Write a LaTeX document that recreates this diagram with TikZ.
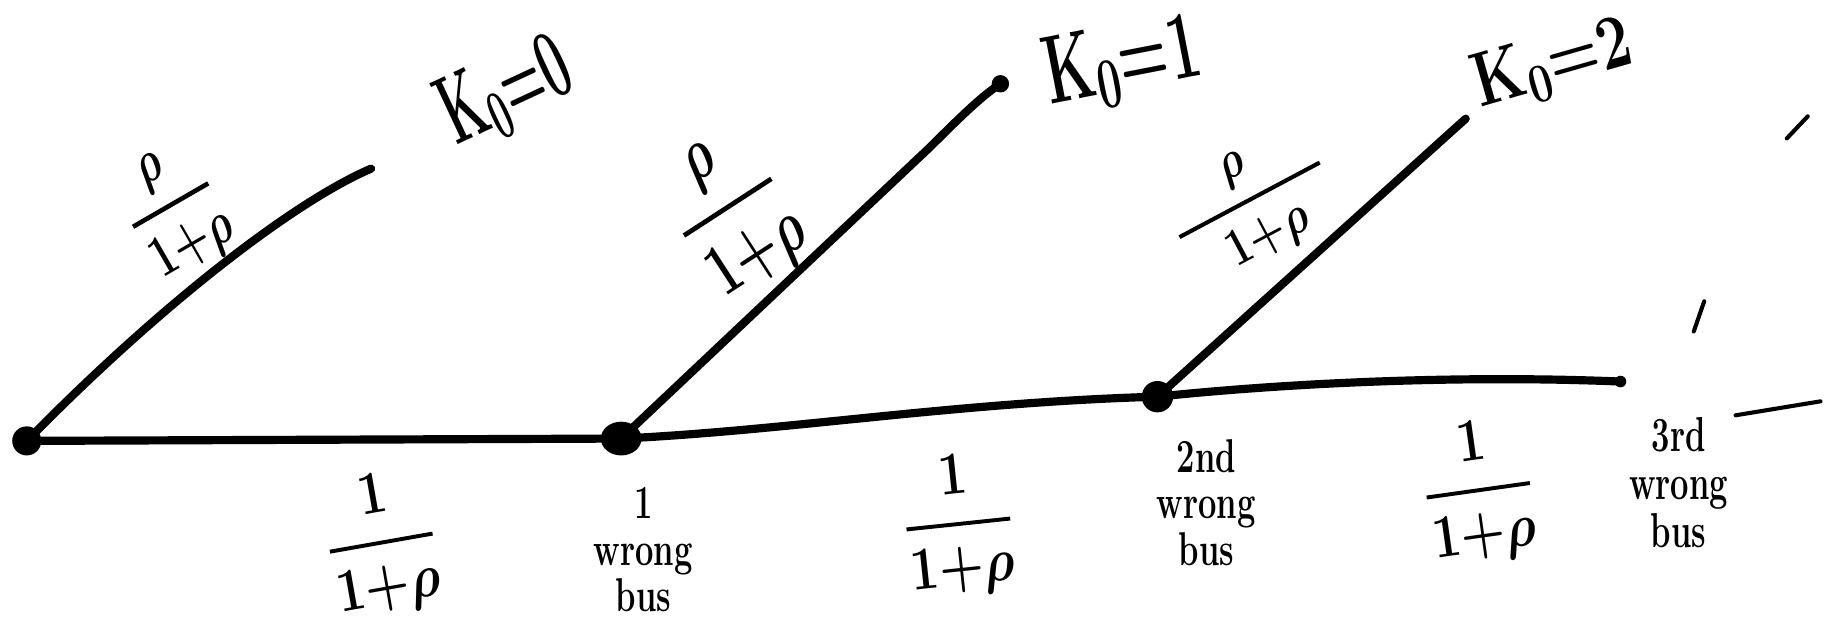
\documentclass[tikz,border=0pt]{standalone}
\usepackage{amsmath}
\usepackage{graphicx}
\usetikzlibrary{shapes.geometric}
\newcommand{\tallbox}[2]{\scalebox{1}[#1]{#2}}
\newcommand{\penfrac}[2]{\genfrac{}{}{1.6pt}{0}{#1}{#2}}
\newcommand{\stackwords}[1]{\renewcommand{\arraystretch}{0.78}\begin{tabular}{@{}c@{}}#1\end{tabular}}
\begin{document}
\begin{tikzpicture}[x=0.02cm,y=0.02cm,
  edge/.style={line width=4pt, line cap=round, line join=round},
  bus/.style={circle, fill=black, inner sep=0pt, minimum size=0.5cm},
  lbl/.style={inner sep=0pt},
  fr/.style={inner sep=0pt},
  note/.style={font=\fontsize{16}{20}\selectfont\bfseries, inner sep=0pt},
  stray/.style={line width=2pt, line cap=round}]
\useasboundingbox (0,0) rectangle (1568,-542);
% buses
\node[bus] (a) at (23,-379) {};
\node[ellipse, fill=black, inner sep=0pt, minimum width=0.7cm, minimum height=0.58cm] (b) at (534,-377) {};
\node[bus, minimum size=0.54cm] (c) at (995,-341) {};
\coordinate (e0) at (319,-145);
\node[bus, minimum size=0.3cm] (e1) at (860,-72) {};
\coordinate (e2) at (1260,-102);
\node[bus, minimum size=0.2cm] (d) at (1393,-328) {};
% connectors
\draw[edge] (a.center) .. controls (150,-250) and (260,-170) .. (e0);
\draw[edge] (a.center) -- (b.center);
\draw[edge] (b.center) -- (800,-126) .. controls (830,-96) and (845,-82) .. (e1.center);
\draw[edge] (b.center) .. controls (680,-370) and (820,-346) .. (c.center);
\draw[edge] (c.center) -- (e2);
\draw[edge] (c.center) .. controls (1100,-330) and (1250,-322) .. (d.center);
% outcome labels
\node[lbl, font=\fontsize{24}{28}\selectfont\bfseries\boldmath, rotate=25] (k0) at (435,-80) {\tallbox{2.0}{K$_0$=0}};
\node[lbl, font=\fontsize{28}{32}\selectfont\bfseries\boldmath, rotate=11] (k1) at (965,-55) {\tallbox{1.7}{K$_0$=1}};
\node[lbl, font=\fontsize{29}{32}\selectfont\bfseries\boldmath, rotate=16] (k2) at (1335,-56) {\tallbox{1.3}{K$_0$=2}};
% branch probabilities
\node[fr, font=\fontsize{22}{26}\selectfont\bfseries\boldmath, rotate=30] (p0) at (150,-182) {\tallbox{1.4}{$\penfrac{\rho}{1{+}\rho}$}};
\node[fr, font=\fontsize{23}{26}\selectfont\bfseries\boldmath, rotate=33] (p1) at (630,-185) {\tallbox{1.45}{$\penfrac{\rho}{1{+}\rho}$}};
\node[fr, font=\fontsize{22}{26}\selectfont\bfseries\boldmath, rotate=28] (p2) at (1077,-177) {\tallbox{1.25}{$\penfrac{\rho}{\hspace{0.8em}1{+}\rho\hspace{0.8em}}$}};
\node[fr, font=\fontsize{28}{32}\selectfont\bfseries\boldmath, rotate=10] (q0) at (328,-468) {\tallbox{1.2}{$\penfrac{1}{1{+}\rho}$}};
\node[fr, font=\fontsize{28}{32}\selectfont\bfseries\boldmath, rotate=6] (q1) at (824,-452) {\tallbox{1.2}{$\penfrac{1}{1{+}\rho}$}};
\node[fr, font=\fontsize{28}{32}\selectfont\bfseries\boldmath, rotate=8] (q2) at (1271,-423) {\tallbox{1.2}{$\penfrac{1}{1{+}\rho}$}};
% bus labels
\node[note] (w1) at (553,-478) {\tallbox{1.45}{\stackwords{1\\wrong\\bus}}};
\node[note] (w2) at (1037,-438) {\tallbox{1.45}{\stackwords{2nd\\wrong\\bus}}};
\node[note] (w3) at (1443,-421) {\tallbox{1.5}{\stackwords{3rd\\wrong\\bus}}};
% stray pen marks
\draw[stray] (1536,-119) -- (1554,-100);
\draw[stray] (1456,-285) -- (1465,-259);
\draw[stray] (1492,-357) -- (1565,-345);
\end{tikzpicture}
\end{document}
